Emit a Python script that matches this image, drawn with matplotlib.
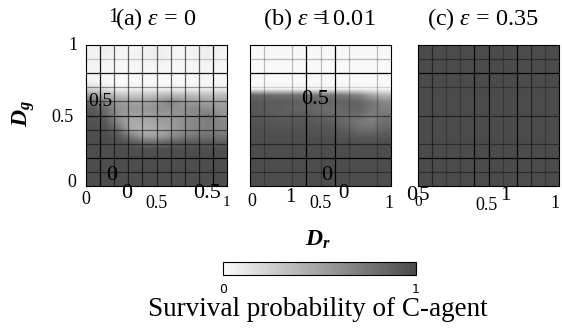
import numpy as np
import matplotlib
matplotlib.use("Agg")
import matplotlib.pyplot as plt
from matplotlib.colors import LinearSegmentedColormap

plt.rcParams['font.family'] = ['Liberation Serif', 'DejaVu Serif']
plt.rcParams['mathtext.fontset'] = 'custom'
plt.rcParams['mathtext.rm'] = 'Liberation Serif'
plt.rcParams['mathtext.it'] = 'Liberation Serif:italic'
plt.rcParams['mathtext.bf'] = 'Liberation Serif:bold'
plt.rcParams['mathtext.bfit'] = 'Liberation Serif:italic:bold'

# ---------------- data ----------------
panel_titles = [r'(a) $\varepsilon$ = 0', r'(b) $\varepsilon$ = 0.01', r'(c) $\varepsilon$ = 0.35']

# survival probability grids, rows from D_g = 1.0 (top) down to 0.0 step 0.05, columns D_r = 0..1 step 0.1
surv_a = np.array([
    [0.05, 0.08, 0.05, 0.03, 0.05, 0.08, 0.05, 0.03, 0.05, 0.08, 0.05],
    [0.06, 0.05, 0.03, 0.05, 0.06, 0.08, 0.04, 0.03, 0.06, 0.07, 0.04],
    [0.05, 0.04, 0.02, 0.03, 0.04, 0.05, 0.03, 0.02, 0.04, 0.05, 0.03],
    [0.04, 0.03, 0.02, 0.02, 0.03, 0.03, 0.02, 0.02, 0.03, 0.04, 0.03],
    [0.04, 0.02, 0.01, 0.01, 0.02, 0.02, 0.01, 0.02, 0.03, 0.03, 0.02],
    [0.05, 0.02, 0.01, 0.01, 0.01, 0.01, 0.01, 0.01, 0.02, 0.02, 0.03],
    [0.20, 0.12, 0.06, 0.05, 0.05, 0.05, 0.06, 0.06, 0.05, 0.06, 0.08],
    [0.55, 0.45, 0.35, 0.30, 0.32, 0.35, 0.40, 0.38, 0.35, 0.35, 0.38],
    [0.80, 0.65, 0.55, 0.50, 0.50, 0.55, 0.68, 0.55, 0.55, 0.50, 0.50],
    [0.90, 0.80, 0.60, 0.55, 0.55, 0.60, 0.60, 0.60, 0.65, 0.62, 0.55],
    [0.95, 0.85, 0.60, 0.50, 0.50, 0.55, 0.55, 0.60, 0.65, 0.72, 0.60],
    [0.95, 0.92, 0.65, 0.45, 0.45, 0.50, 0.55, 0.60, 0.65, 0.72, 0.65],
    [0.97, 0.95, 0.80, 0.45, 0.40, 0.45, 0.50, 0.60, 0.65, 0.70, 0.65],
    [0.97, 0.97, 0.92, 0.70, 0.50, 0.50, 0.60, 0.70, 0.75, 0.78, 0.75],
    [0.98, 0.98, 0.97, 0.90, 0.80, 0.80, 0.85, 0.88, 0.90, 0.90, 0.88],
    [0.98, 0.98, 0.98, 0.97, 0.96, 0.96, 0.97, 0.97, 0.97, 0.97, 0.97],
    [0.98, 0.98, 0.98, 0.98, 0.98, 0.98, 0.98, 0.98, 0.98, 0.98, 0.98],
    [0.98, 0.98, 0.98, 0.98, 0.98, 0.98, 0.98, 0.98, 0.98, 0.98, 0.98],
    [0.98, 0.98, 0.98, 0.98, 0.98, 0.98, 0.98, 0.98, 0.98, 0.98, 0.98],
    [0.98, 0.98, 0.98, 0.98, 0.98, 0.98, 0.98, 0.98, 0.98, 0.98, 0.98],
    [0.98, 0.98, 0.98, 0.98, 0.98, 0.98, 0.98, 0.98, 0.98, 0.98, 0.98],
])

surv_b = np.array([
    [0.02, 0.02, 0.02, 0.02, 0.02, 0.02, 0.02, 0.02, 0.02, 0.02, 0.02],
    [0.02, 0.02, 0.02, 0.02, 0.02, 0.02, 0.02, 0.02, 0.02, 0.02, 0.02],
    [0.01, 0.01, 0.01, 0.01, 0.01, 0.01, 0.01, 0.01, 0.01, 0.01, 0.01],
    [0.01, 0.01, 0.01, 0.01, 0.01, 0.01, 0.01, 0.01, 0.01, 0.01, 0.01],
    [0.01, 0.01, 0.01, 0.01, 0.01, 0.01, 0.01, 0.01, 0.01, 0.01, 0.01],
    [0.01, 0.01, 0.01, 0.01, 0.01, 0.01, 0.01, 0.01, 0.01, 0.01, 0.01],
    [0.03, 0.03, 0.03, 0.03, 0.03, 0.03, 0.03, 0.03, 0.03, 0.02, 0.02],
    [0.85, 0.82, 0.80, 0.78, 0.76, 0.75, 0.76, 0.74, 0.68, 0.50, 0.40],
    [0.92, 0.90, 0.90, 0.88, 0.86, 0.85, 0.85, 0.86, 0.85, 0.75, 0.65],
    [0.92, 0.90, 0.88, 0.85, 0.85, 0.80, 0.80, 0.85, 0.85, 0.75, 0.70],
    [0.93, 0.90, 0.88, 0.90, 0.90, 0.85, 0.82, 0.80, 0.80, 0.70, 0.75],
    [0.95, 0.93, 0.92, 0.92, 0.92, 0.90, 0.88, 0.82, 0.75, 0.70, 0.80],
    [0.97, 0.95, 0.95, 0.95, 0.95, 0.93, 0.92, 0.88, 0.80, 0.78, 0.85],
    [0.97, 0.97, 0.97, 0.97, 0.97, 0.96, 0.95, 0.93, 0.90, 0.90, 0.92],
    [0.98, 0.98, 0.98, 0.98, 0.98, 0.98, 0.97, 0.97, 0.96, 0.96, 0.97],
    [0.98, 0.98, 0.98, 0.98, 0.98, 0.98, 0.98, 0.98, 0.98, 0.98, 0.98],
    [0.98, 0.98, 0.98, 0.98, 0.98, 0.98, 0.98, 0.98, 0.98, 0.98, 0.98],
    [0.98, 0.98, 0.98, 0.98, 0.98, 0.98, 0.98, 0.98, 0.98, 0.98, 0.98],
    [0.98, 0.98, 0.98, 0.98, 0.98, 0.98, 0.98, 0.98, 0.98, 0.98, 0.98],
    [0.98, 0.98, 0.98, 0.98, 0.98, 0.98, 0.98, 0.98, 0.98, 0.98, 0.98],
    [0.98, 0.98, 0.98, 0.98, 0.98, 0.98, 0.98, 0.98, 0.98, 0.98, 0.98],
])

surv_c = np.array([
    [0.99, 0.99, 0.99],
    [0.99, 0.99, 0.99],
    [0.99, 0.99, 0.99],
])

colorbar_ticks = [0, 1]
colorbar_label = 'Survival probability of C-agent'
xlabel = r'$\mathbfit{D}_{\mathbfit{r}}$'
ylabel = r'$\mathbfit{D}_{\mathbfit{g}}$'

# stray tick labels as they appear in the figure: (text, x px, y px, size)
stray_labels = [
    ('1', 113, 18, 15), ('1', 73, 46, 13), ('0.5', 63, 117, 13), ('0', 72, 183, 13),
    ('0.5', 100, 101, 14), ('0', 112, 176, 16),
    ('0', 86, 200, 13), ('0', 127, 193, 16), ('0.5', 157, 203, 13), ('0.5', 207, 194, 16), ('1', 226, 202, 11),
    ('1', 324, 19, 15),
    ('0.5', 315, 100, 16), ('0', 327, 176, 16),
    ('0', 252, 201, 13), ('1', 290, 197, 15), ('0.5', 320, 204, 13), ('0', 343, 194, 15), ('1', 389, 203, 13),
    ('0', 412, 196, 16), ('0', 418, 202, 11), ('5', 424, 195, 15),
    ('0.5', 486, 205, 13), ('1', 505, 195, 15), ('1', 555, 203, 13),
]

# grid lines per panel: (position, alpha)
vlines = [
    [(0.1, 0.9), (0.2, 0.6), (0.3, 0.6), (0.4, 0.6), (0.5, 0.6), (0.6, 0.6), (0.7, 0.6), (0.8, 0.6), (0.9, 0.9)],
    [(0.1, 0.25), (0.3, 0.25), (0.4, 1.0), (0.5, 0.25), (0.6, 1.0), (0.7, 0.25), (0.9, 0.25)],
    [(0.1, 0.5), (0.2, 0.25), (0.3, 0.25), (0.4, 0.9), (0.5, 0.9), (0.6, 0.25), (0.7, 0.9), (0.8, 0.5), (0.9, 0.25)],
]
hlines = [
    [(0.9, 0.2), (0.8, 0.9), (0.7, 0.4), (0.6, 0.5), (0.5, 0.8), (0.4, 0.5), (0.3, 0.5), (0.2, 0.9), (0.1, 0.5)],
    [(0.9, 0.25), (0.8, 1.0), (0.7, 0.15), (0.5, 0.5), (0.3, 0.5), (0.2, 1.0), (0.1, 0.4)],
    [(0.9, 0.4), (0.8, 0.9), (0.7, 0.3), (0.5, 0.5), (0.3, 0.4), (0.2, 0.9), (0.1, 0.4)],
]

# ---------------- drawing ----------------
W, H = 562, 331
fig = plt.figure(figsize=(W / 100, H / 100), dpi=100)
cmap = LinearSegmentedColormap.from_list('survgrey', ['#fbfbfb', '#4a4a4a'])

def fx(x):
    return x / W

def fy(y):
    return 1 - y / H

panel_left = [86, 250, 418]
panel_w, panel_top, panel_bottom = 141, 45, 186
title_x = [156, 319, 483]
grids = [surv_a, surv_b, surv_c]

im = None
for i in range(3):
    ax = fig.add_axes([fx(panel_left[i]), fy(panel_bottom), panel_w / W, (panel_bottom - panel_top) / H])
    im = ax.imshow(grids[i], cmap=cmap, vmin=0, vmax=1, origin='upper', extent=[0, 1, 0, 1],
                   aspect='auto', interpolation='bilinear')
    for pos, a in vlines[i]:
        ax.axvline(pos, color='black', alpha=a, lw=0.9)
    for pos, a in hlines[i]:
        ax.axhline(pos, color='black', alpha=a, lw=0.9)
    ax.set_xlim(0, 1)
    ax.set_ylim(0, 1)
    ax.set_xticks([])
    ax.set_yticks([])
    for s in ax.spines.values():
        s.set_linewidth(0.8)
    fig.text(fx(title_x[i]), fy(19), panel_titles[i], ha='center', va='center', fontsize=17.5)

for txt, x, y, s in stray_labels:
    fig.text(fx(x), fy(y), txt, ha='center', va='center', fontsize=s)

fig.text(fx(318), fy(240), xlabel, ha='center', va='center', fontsize=17)
fig.text(fx(24), fy(113), ylabel, ha='center', va='center', fontsize=17, rotation=90)

cax = fig.add_axes([fx(223), fy(275), 193 / W, 13 / H])
cb = fig.colorbar(im, cax=cax, orientation='horizontal', ticks=colorbar_ticks)
cb.outline.set_linewidth(0.8)
cax.tick_params(length=0, pad=6)
cax.set_xticklabels([str(t) for t in colorbar_ticks], fontfamily='DejaVu Sans', fontsize=9)
fig.text(fx(318), fy(310), colorbar_label, ha='center', va='center', fontsize=19.5)

fig.savefig('out.png', dpi=100)
